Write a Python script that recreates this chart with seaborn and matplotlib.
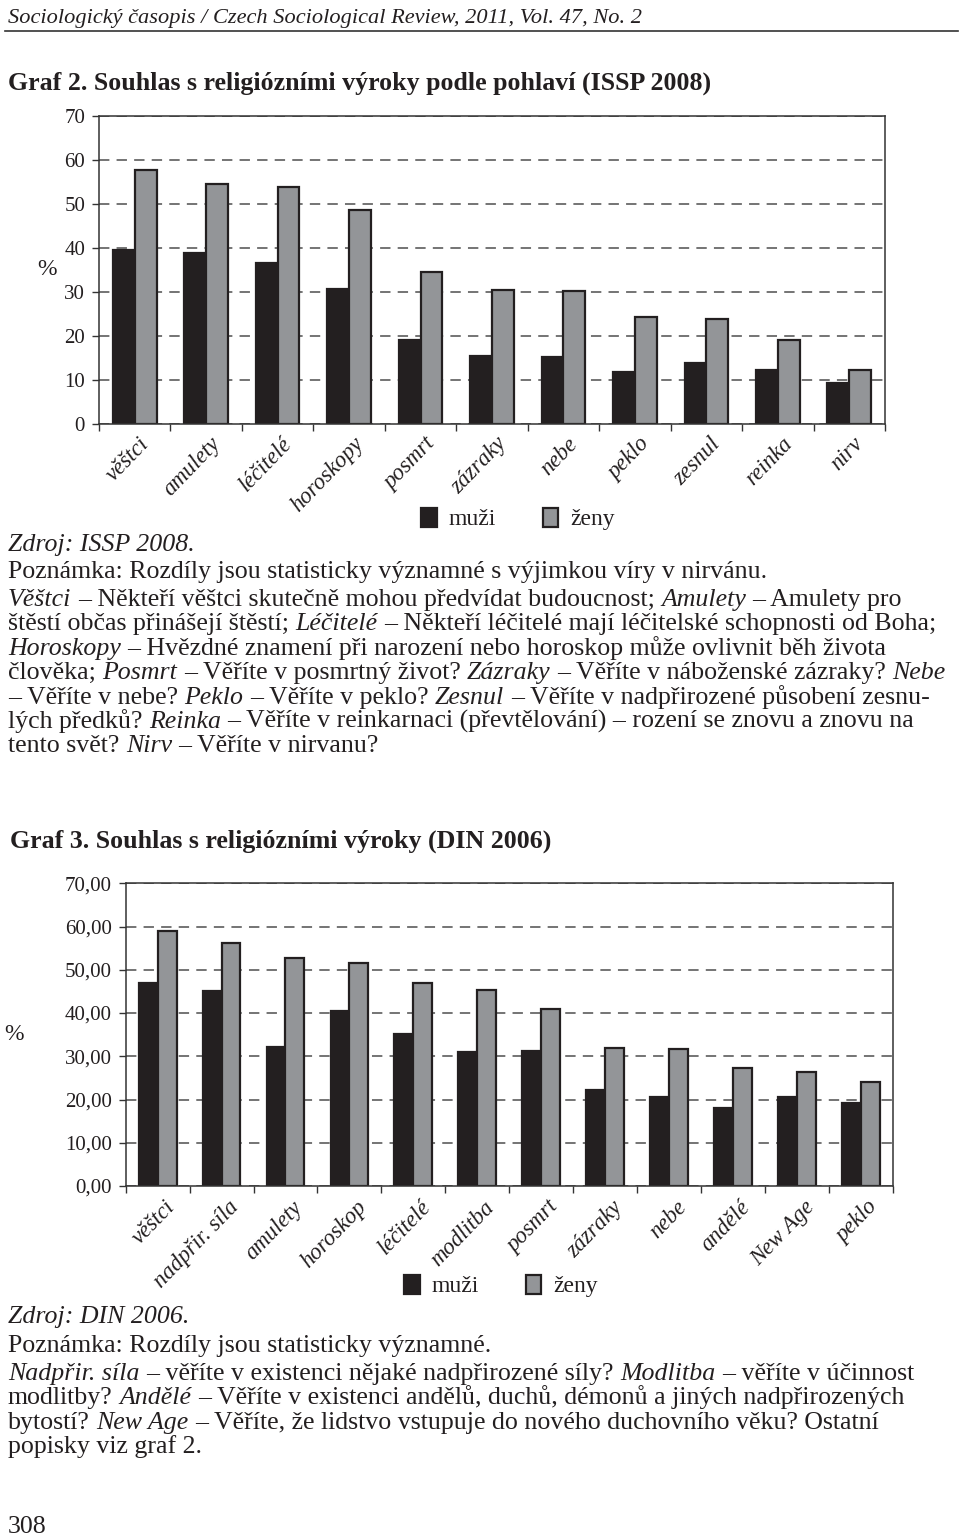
import numpy as np
import pandas as pd
import matplotlib
matplotlib.use("Agg")
import matplotlib.pyplot as plt
import matplotlib.transforms as mtransforms
from matplotlib.lines import Line2D
import seaborn as sns

# ---------------- data ----------------
categories_1 = ["věštci", "amulety", "léčitelé", "horoskopy", "posmrt", "zázraky",
                "nebe", "peklo", "zesnul", "reinka", "nirv"]
muzi_1 = [39.5, 38.9, 36.5, 30.7, 19.0, 15.4, 15.2, 11.7, 13.8, 12.2, 9.4]
zeny_1 = [57.7, 54.4, 53.9, 48.6, 34.4, 30.5, 30.1, 24.2, 23.8, 19.1, 12.3]
yticks_1 = [0, 10, 20, 30, 40, 50, 60, 70]
ytick_labels_1 = ["0", "10", "20", "30", "40", "50", "60", "70"]

categories_2 = ["věštci", "nadpřir. síla", "amulety", "horoskop", "léčitelé", "modlitba",
                "posmrt", "zázraky", "nebe", "andělé", "New Age", "peklo"]
muzi_2 = [47.0, 45.2, 32.2, 40.5, 35.2, 30.9, 31.2, 22.1, 20.6, 18.1, 20.6, 19.2]
zeny_2 = [59.0, 56.2, 52.7, 51.5, 46.9, 45.4, 40.9, 31.9, 31.7, 27.4, 26.3, 24.0]
yticks_2 = [0, 10, 20, 30, 40, 50, 60, 70]
ytick_labels_2 = ["0,00", "10,00", "20,00", "30,00", "40,00", "50,00", "60,00", "70,00"]

series_names = ["muži", "ženy"]

header = "Sociologický časopis / Czech Sociological Review, 2011, Vol. 47, No. 2"
title_1 = "Graf 2. Souhlas s religiózními výroky podle pohlaví (ISSP 2008)"
title_2 = "Graf 3. Souhlas s religiózními výroky (DIN 2006)"
source_1 = "Zdroj: ISSP 2008."
note_1 = "Poznámka: Rozdíly jsou statisticky významné s výjimkou víry v nirvánu."
source_2 = "Zdroj: DIN 2006."
note_2 = "Poznámka: Rozdíly jsou statisticky významné."
page_no = "308"

# description lines: (text, italic?) segments, separated by spaces
desc_1 = [
    [("Věštci", 1), ("– Někteří věštci skutečně mohou předvídat budoucnost;", 0), ("Amulety", 1), ("– Amulety pro", 0)],
    [("štěstí občas přinášejí štěstí;", 0), ("Léčitelé", 1), ("– Někteří léčitelé mají léčitelské schopnosti od Boha;", 0)],
    [("Horoskopy", 1), ("– Hvězdné znamení při narození nebo horoskop může ovlivnit běh života", 0)],
    [("člověka;", 0), ("Posmrt", 1), ("– Věříte v posmrtný život?", 0), ("Zázraky", 1), ("– Věříte v náboženské zázraky?", 0), ("Nebe", 1)],
    [("– Věříte v nebe?", 0), ("Peklo", 1), ("– Věříte v peklo?", 0), ("Zesnul", 1), ("– Věříte v nadpřirozené působení zesnu-", 0)],
    [("lých předků?", 0), ("Reinka", 1), ("– Věříte v reinkarnaci (převtělování) – rození se znovu a znovu na", 0)],
    [("tento svět?", 0), ("Nirv", 1), ("– Věříte v nirvanu?", 0)],
]
desc_2 = [
    [("Nadpřir. síla", 1), ("– věříte v existenci nějaké nadpřirozené síly?", 0), ("Modlitba", 1), ("– věříte v účinnost", 0)],
    [("modlitby?", 0), ("Andělé", 1), ("– Věříte v existenci andělů, duchů, démonů a jiných nadpřirozených", 0)],
    [("bytostí?", 0), ("New Age", 1), ("– Věříte, že lidstvo vstupuje do nového duchovního věku? Ostatní", 0)],
    [("popisky viz graf 2.", 0)],
]

# ---------------- style ----------------
SERIF = ["Liberation Serif", "DejaVu Serif"]
plt.rcParams["font.family"] = SERIF
TXT = "#231f20"
DARK = "#231f20"
GRAY = "#939598"
EDGE = "#231f20"
GRID = "#555555"

W, H = 960, 1538
fig = plt.figure(figsize=(W / 100, H / 100), dpi=100)
fig.patch.set_facecolor("white")
renderer = fig.canvas.get_renderer()

BODY = 18.6
TITLE = 18.6


def fy(y):
    return 1 - y / H


def rich_line(x, y, segments, size=BODY):
    space = {}
    for sty in ("normal", "italic"):
        a = fig.text(0, 0, "x x", fontsize=size, style=sty)
        b = fig.text(0, 0, "xx", fontsize=size, style=sty)
        space[sty] = a.get_window_extent(renderer).width - b.get_window_extent(renderer).width
        a.remove()
        b.remove()
    cx = x
    for txt, ital in segments:
        sty = "italic" if ital else "normal"
        t = fig.text(cx / W, fy(y), txt, fontsize=size, style=sty, va="baseline",
                     ha="left", color=TXT)
        bb = t.get_window_extent(renderer)
        cx = bb.x1 + space[sty]


def bar_chart(rect, cats, m, z, yticks, ylabels, label_dx, label_pad, pct_x, legend_xy, width):
    ax = fig.add_axes(rect)
    df = pd.DataFrame({
        "kat": cats * 2,
        "hodnota": list(m) + list(z),
        "pohlaví": [series_names[0]] * len(cats) + [series_names[1]] * len(cats),
    })
    sns.barplot(data=df, x="kat", y="hodnota", hue="pohlaví", order=cats,
                hue_order=series_names, palette=[DARK, GRAY], saturation=1,
                width=width, dodge=True, edgecolor=EDGE, linewidth=1.6, ax=ax)
    n = len(cats)
    ax.set_xlim(-0.5, n - 0.5)
    ax.set_ylim(0, 70)
    ax.set_axisbelow(True)
    ax.yaxis.grid(True, color=GRID, linestyle=(0, (6.5, 4.5)), linewidth=1.15)
    ax.xaxis.grid(False)
    for s in ax.spines.values():
        s.set_visible(True)
        s.set_color("#333333")
        s.set_linewidth(1.1)
    ax.set_yticks(yticks)
    ax.set_yticklabels(ylabels, fontsize=15, color=TXT)
    ax.tick_params(axis="y", direction="out", length=5, width=1.0, color="#333333", pad=5)
    ax.set_xticks(range(n))
    ax.set_xticklabels(cats, rotation=46, ha="right", va="center", rotation_mode="anchor",
                       fontsize=16.5, style="italic", color=TXT)
    ax.tick_params(axis="x", which="major", length=0, pad=label_pad)
    ax.set_xticks(np.arange(-0.5, n, 1.0), minor=True)
    ax.tick_params(axis="x", which="minor", direction="out", length=5, width=1.0, color="#333333")
    off = mtransforms.ScaledTranslation(label_dx / 100, 0, fig.dpi_scale_trans)
    for lab in ax.get_xticklabels():
        lab.set_transform(lab.get_transform() + off)
    ax.set_xlabel("")
    ax.set_ylabel("%", rotation=0, fontsize=17, color=TXT, va="center", ha="center")
    ax.yaxis.set_label_coords(pct_x, 0.5)
    handles, labels = ax.get_legend_handles_labels()
    if ax.get_legend() is not None:
        ax.get_legend().remove()
    ax.legend(handles, labels, loc="center", bbox_to_anchor=legend_xy,
              bbox_transform=fig.transFigure, ncol=2, frameon=False, fontsize=17,
              handlelength=0.65, handleheight=0.85, handletextpad=0.5, columnspacing=2.0,
              labelcolor=TXT)
    return ax


# ---------------- header ----------------
fig.text(8 / W, fy(23), header, fontsize=16.1, style="italic", color=TXT, va="baseline")
fig.add_artist(Line2D([5 / W, 958 / W], [fy(31), fy(31)], transform=fig.transFigure,
                      color="#333333", lw=1.2))
fig.text(8 / W, fy(90), title_1, fontsize=TITLE, weight="bold", color=TXT, va="baseline")

# ---------------- chart 1 ----------------
ax1 = bar_chart([99 / W, 1 - 424 / H, 786 / W, (424 - 115.7) / H],
                categories_1, muzi_1, zeny_1, yticks_1, ytick_labels_1,
                label_dx=11, label_pad=12, pct_x=-0.066,
                legend_xy=(518 / W, fy(519)), width=0.61)

fig.text(8 / W, fy(551), source_1, fontsize=BODY, style="italic", color=TXT, va="baseline")
fig.text(8 / W, fy(578), note_1, fontsize=BODY, color=TXT, va="baseline")
for i, line in enumerate(desc_1):
    rich_line(8, 606 + 24.4 * i, line)

# ---------------- chart 2 ----------------
fig.text(10 / W, fy(848), title_2, fontsize=TITLE, weight="bold", color=TXT, va="baseline")
ax2 = bar_chart([125.7 / W, 1 - 1186 / H, 767 / W, (1186 - 883.3) / H],
                categories_2, muzi_2, zeny_2, yticks_2, ytick_labels_2,
                label_dx=14, label_pad=13, pct_x=-0.146,
                legend_xy=(501 / W, fy(1286)), width=0.59)

fig.text(8 / W, fy(1323), source_2, fontsize=BODY, style="italic", color=TXT, va="baseline")
fig.text(8 / W, fy(1352), note_2, fontsize=BODY, color=TXT, va="baseline")
for i, line in enumerate(desc_2):
    rich_line(8, 1380 + 24.4 * i, line)

fig.text(8 / W, fy(1533), page_no, fontsize=BODY, color=TXT, va="baseline")

fig.savefig("out.png", dpi=100, facecolor="white")
